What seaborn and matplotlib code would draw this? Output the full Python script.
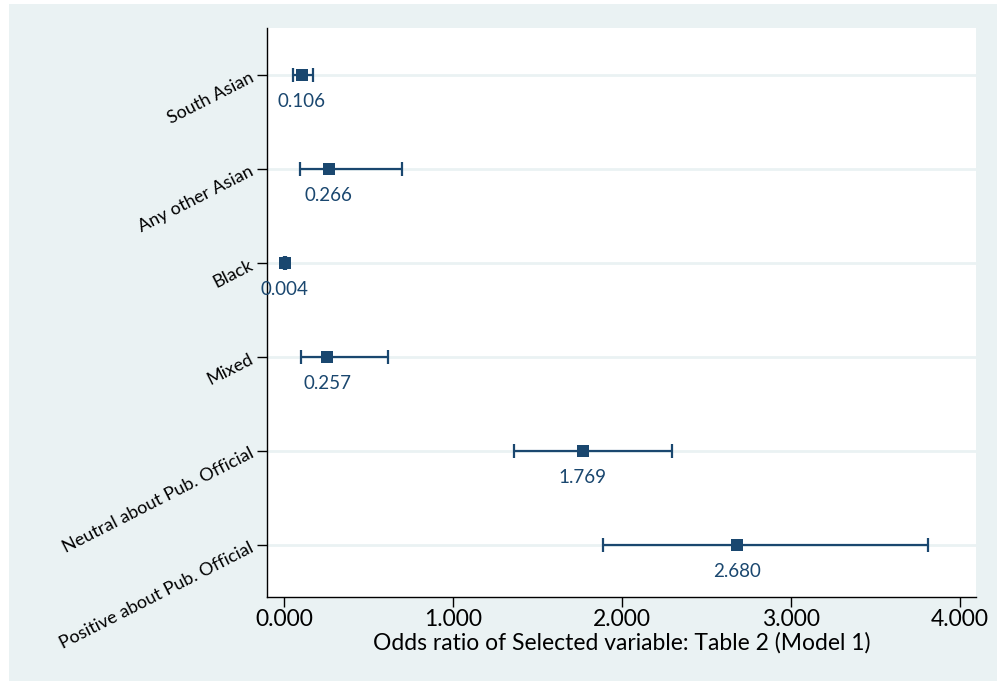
import numpy as np
import pandas as pd
import matplotlib
matplotlib.use("Agg")
import matplotlib.pyplot as plt
import seaborn as sns
from matplotlib.patches import Rectangle

# Data
labels = ["South Asian", "Any other Asian", "Black", "Mixed",
          "Neutral about Pub. Official", "Positive about Pub. Official"]
odds = [0.106, 0.266, 0.004, 0.257, 1.769, 2.680]
ci_low = [0.055, 0.095, 0.001, 0.100, 1.361, 1.888]
ci_high = [0.170, 0.696, 0.012, 0.615, 2.294, 3.809]
xticks = [0, 1, 2, 3, 4]

df = pd.DataFrame({"label": labels, "odds": odds, "lo": ci_low, "hi": ci_high})
df["pos"] = np.arange(len(df))

navy = "#1a476f"
light = "#eaf2f3"

sns.set_style("white")
plt.rcParams["font.family"] = ["Lato", "DejaVu Sans"]
plt.rcParams["text.color"] = "black"
plt.rcParams["xtick.color"] = "black"
plt.rcParams["ytick.color"] = "black"
plt.rcParams["axes.labelcolor"] = "black"

fig = plt.figure(figsize=(9.97, 6.81), dpi=100, facecolor="white")
fig.patches.append(Rectangle((9 / 997, 0), 1 - 9 / 997, 677 / 681,
                             transform=fig.transFigure, facecolor=light,
                             edgecolor="none", zorder=-1))

W, H = 997, 681
ax = fig.add_axes([267 / W, (H - 597) / H, (976 - 267) / W, (597 - 28) / H])
ax.set_facecolor("white")

# horizontal grid lines at each category
for p in df["pos"]:
    ax.axhline(p, color=light, lw=2, zorder=0)

ax.errorbar(df["odds"], df["pos"],
            xerr=[df["odds"] - df["lo"], df["hi"] - df["odds"]],
            fmt="none", ecolor=navy, elinewidth=1.6, capsize=5, capthick=1.6,
            zorder=2)
sns.scatterplot(data=df, x="odds", y="pos", marker="s", s=80, color=navy,
                edgecolor=navy, linewidth=0, zorder=3, ax=ax, legend=False)

for _, r in df.iterrows():
    ax.annotate(f"{r['odds']:.3f}", (r["odds"], r["pos"]), xytext=(0, -19),
                textcoords="offset points", ha="center", va="center",
                fontsize=13.5, color=navy)

ax.set_xlim(-0.1, 4.095)
ax.set_ylim(5.55, -0.5)
ax.set_xticks(xticks)
ax.set_xticklabels([f"{v:.3f}" for v in xticks], fontsize=16.5)
ax.set_yticks(df["pos"])
ax.set_yticklabels(df["label"], rotation=27, ha="right",
                   rotation_mode="anchor", fontsize=13)
ax.tick_params(axis="both", length=7, width=1, color="black", pad=4,
               left=True, bottom=True)
ax.tick_params(axis="x", pad=2)
ax.set_xlabel("Odds ratio of Selected variable: Table 2 (Model 1)",
              fontsize=16.5, labelpad=1)
ax.set_ylabel("")

for s in ["top", "right"]:
    ax.spines[s].set_visible(False)
for s in ["left", "bottom"]:
    ax.spines[s].set_color("black")
    ax.spines[s].set_linewidth(1)

fig.savefig("out.png", dpi=100, facecolor="white")
